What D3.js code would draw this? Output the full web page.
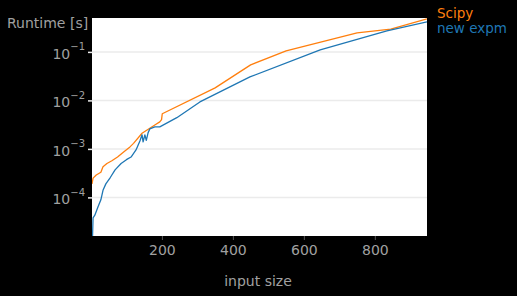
<!DOCTYPE html>
<html lang="en">
  <head>
    <meta charset="UTF-8" />
    <title>Runtime</title>
    <script src="https://cdn.jsdelivr.net/npm/d3@7"></script>
    <style>
      body { margin: 0; background: #000; }
      text { font-family: "DejaVu Sans", sans-serif; }
    </style>
  </head>
  <body>
    <script>
      // input sizes and runtimes
      const scipyX = [3, 6, 15, 28, 34, 45, 59, 75, 93, 110, 120, 144, 180, 194, 199, 201, 350, 450, 550, 750, 845, 947];
      const scipyY = [1.9e-4, 2.5e-4, 2.9e-4, 3.3e-4, 4.3e-4, 5.0e-4, 5.7e-4, 6.8e-4, 8.7e-4, 1.1e-3, 1.3e-3, 2.1e-3, 3.1e-3, 3.6e-3, 4.0e-3, 5.3e-3, 0.0181, 0.054, 0.105, 0.247, 0.295, 0.48];
      const expmX = [4, 6, 11, 20, 28, 34, 42, 55, 68, 85, 100, 113, 127, 138, 144, 147, 152, 156, 161, 166, 180, 194, 242, 307, 448, 646, 834, 947];
      const expmY = [1.2e-5, 3.8e-5, 4.3e-5, 6.4e-5, 8.9e-5, 1.4e-4, 1.9e-4, 2.6e-4, 3.7e-4, 5.0e-4, 6.0e-4, 6.8e-4, 9.5e-4, 1.46e-3, 1.95e-3, 1.39e-3, 1.95e-3, 1.5e-3, 2.14e-3, 2.6e-3, 2.84e-3, 2.85e-3, 4.4e-3, 9.3e-3, 0.0305, 0.11, 0.271, 0.416];
      const seriesNames = ["Scipy", "new expm"];
      const xTicks = [200, 400, 600, 800];
      const yTicks = [1e-4, 1e-3, 1e-2, 1e-1];

      const width = 517, height = 296;
      const margin = { top: 18, right: 90, bottom: 60, left: 92 };
      const grey = "#a0a0a0";
      const colors = ["#ff7f0e", "#1f77b4"];

      const svg = d3.select("body").append("svg")
        .attr("width", width).attr("height", height);

      const x = d3.scaleLinear().domain([3, 947])
        .range([margin.left, width - margin.right]);
      const y = d3.scaleLog().domain([1.6e-5, 0.5])
        .range([height - margin.bottom, margin.top]);

      svg.append("defs").append("clipPath").attr("id", "clip")
        .append("rect")
        .attr("x", margin.left).attr("y", margin.top)
        .attr("width", x.range()[1] - x.range()[0])
        .attr("height", y.range()[0] - y.range()[1]);

      // plot background
      svg.append("rect")
        .attr("x", margin.left).attr("y", margin.top)
        .attr("width", x.range()[1] - x.range()[0])
        .attr("height", y.range()[0] - y.range()[1])
        .attr("fill", "#fff");

      // horizontal grid
      svg.append("g").selectAll("line").data(yTicks).join("line")
        .attr("x1", margin.left).attr("x2", x.range()[1])
        .attr("y1", (d) => y(d)).attr("y2", (d) => y(d))
        .attr("stroke", "#ebebeb").attr("stroke-width", 1.5);

      // y axis, labels as 10 with a superscript power
      const yAxis = svg.append("g")
        .attr("transform", `translate(${margin.left},0)`)
        .call(d3.axisLeft(y).tickValues(yTicks).tickSize(4).tickPadding(3).tickFormat(""));
      yAxis.select(".domain").remove();
      yAxis.selectAll(".tick line").attr("stroke", "#ebebeb").attr("stroke-width", 1.5);
      yAxis.selectAll(".tick text").each(function (d) {
        const t = d3.select(this)
          .attr("fill", grey).attr("font-size", 14).attr("dy", "0.45em");
        t.append("tspan").text("10");
        t.append("tspan").attr("font-size", 10).attr("dy", "-0.85em")
          .text("\u2212" + Math.round(-Math.log10(d)));
      });

      // x axis
      const xAxis = svg.append("g")
        .attr("transform", `translate(0,${y.range()[0]})`)
        .call(d3.axisBottom(x).tickValues(xTicks).tickSize(4).tickPadding(5));
      xAxis.select(".domain").remove();
      xAxis.selectAll(".tick line").attr("stroke", "#555");
      xAxis.selectAll(".tick text").attr("fill", grey).attr("font-size", 14);

      // lines
      const line = d3.line().x((d) => x(d[0])).y((d) => y(d[1]));
      const series = [
        d3.zip(scipyX, scipyY),
        d3.zip(expmX, expmY),
      ];
      svg.append("g").attr("clip-path", "url(#clip)")
        .selectAll("path").data(series).join("path")
        .attr("d", line)
        .attr("fill", "none")
        .attr("stroke", (d, i) => colors[i])
        .attr("stroke-width", 1.3)
        .attr("stroke-linejoin", "round");

      // labels
      svg.append("text").attr("x", 7).attr("y", 28)
        .attr("fill", grey).attr("font-size", 14).text("Runtime [s]");
      svg.append("text").attr("x", 258).attr("y", 286)
        .attr("text-anchor", "middle")
        .attr("fill", grey).attr("font-size", 14).text("input size");

      // legend
      svg.append("g").selectAll("text").data(seriesNames).join("text")
        .attr("x", 437).attr("y", (d, i) => 18 + i * 15)
        .attr("fill", (d, i) => colors[i])
        .attr("font-size", 13.5)
        .text((d) => d);
    </script>
  </body>
</html>
